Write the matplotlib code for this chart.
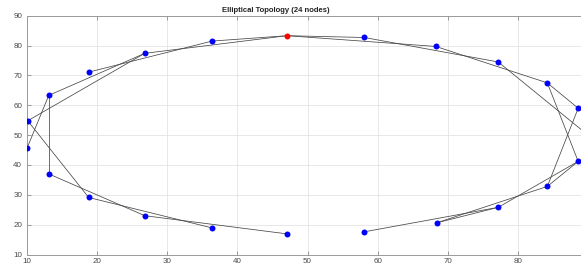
"""
Elliptical topology - nodes on an ellipse with their links
"""
import matplotlib
matplotlib.use('Agg')
import matplotlib.pyplot as plt

# node coordinates (index 0 sits at the right edge, mostly cropped)
node_x = [90.0, 88.6, 84.2, 77.2, 68.3, 58.1, 47.1, 36.4, 26.8, 18.8, 13.1, 10.1,
          10.0, 13.1, 18.8, 26.8, 36.4, 47.1, 58.1, 68.4, 77.2, 84.2, 88.6]
node_y = [50.0, 59.0, 67.5, 74.5, 79.7, 82.7, 83.3, 81.5, 77.4, 71.1, 63.3, 54.8,
          45.6, 37.0, 29.1, 23.0, 18.9, 16.9, 17.6, 20.6, 25.8, 32.8, 41.2]
center_node = 6

# links as pairs of node indices
edges = [(10, 13), (11, 14), (12, 10), (13, 15), (14, 16), (15, 17),
         (10, 8), (11, 8), (9, 7), (8, 6), (7, 6),
         (6, 5), (6, 4), (5, 3), (4, 2), (3, 0), (2, 1),
         (2, 22), (1, 21), (18, 20), (19, 20), (19, 21), (20, 22), (21, 22)]

ticks = [10, 20, 30, 40, 50, 60, 70, 80, 90]
xtick_labels = ['10', '20', '30', '40', '50', '60', '70', '80', '']
title = 'Elliptical Topology (24 nodes)'

plt.rcParams['font.family'] = ['Liberation Sans', 'DejaVu Sans']

W, H = 581, 266
fig = plt.figure(figsize=(W / 100, H / 100), dpi=100)
# axes runs a bit past the right border, like the cropped original
ax = fig.add_axes([27 / W, (H - 254.5) / H, (588 - 27) / W, (254.5 - 15.7) / H])

for i, j in edges:
    ax.plot([node_x[i], node_x[j]], [node_y[i], node_y[j]],
            color='#474747', linewidth=0.55, zorder=2, solid_capstyle='round')

others = [k for k in range(len(node_x)) if k != center_node]
ax.plot([node_x[k] for k in others], [node_y[k] for k in others], 'o',
        color='#0000ff', markersize=4.3, markeredgewidth=0, zorder=3)
ax.plot(node_x[center_node], node_y[center_node], 'o',
        color='#ff0000', markersize=4.3, markeredgewidth=0, zorder=4)

ax.set_xlim(10, 90)
ax.set_ylim(10, 90)
ax.set_xticks(ticks)
ax.set_xticklabels(xtick_labels)
ax.set_yticks(ticks)
ax.grid(True, color='#e4e4e4', linewidth=0.6)
ax.set_axisbelow(True)
ax.tick_params(direction='in', length=3, width=0.6, colors='#8c8c8c',
               labelcolor='#4a4a4a', labelsize=5.8, pad=2.5,
               top=True, right=True)
ax.tick_params(axis='y', pad=3.5)
for s in ax.spines.values():
    s.set_color('#9a9a9a')
    s.set_linewidth(0.7)

fig.text(275.5 / W, (H - 12) / H, title, ha='center', va='baseline',
         fontsize=5.5, fontweight='bold', color='#222222')

fig.savefig('out.png', dpi=100, facecolor='white')
